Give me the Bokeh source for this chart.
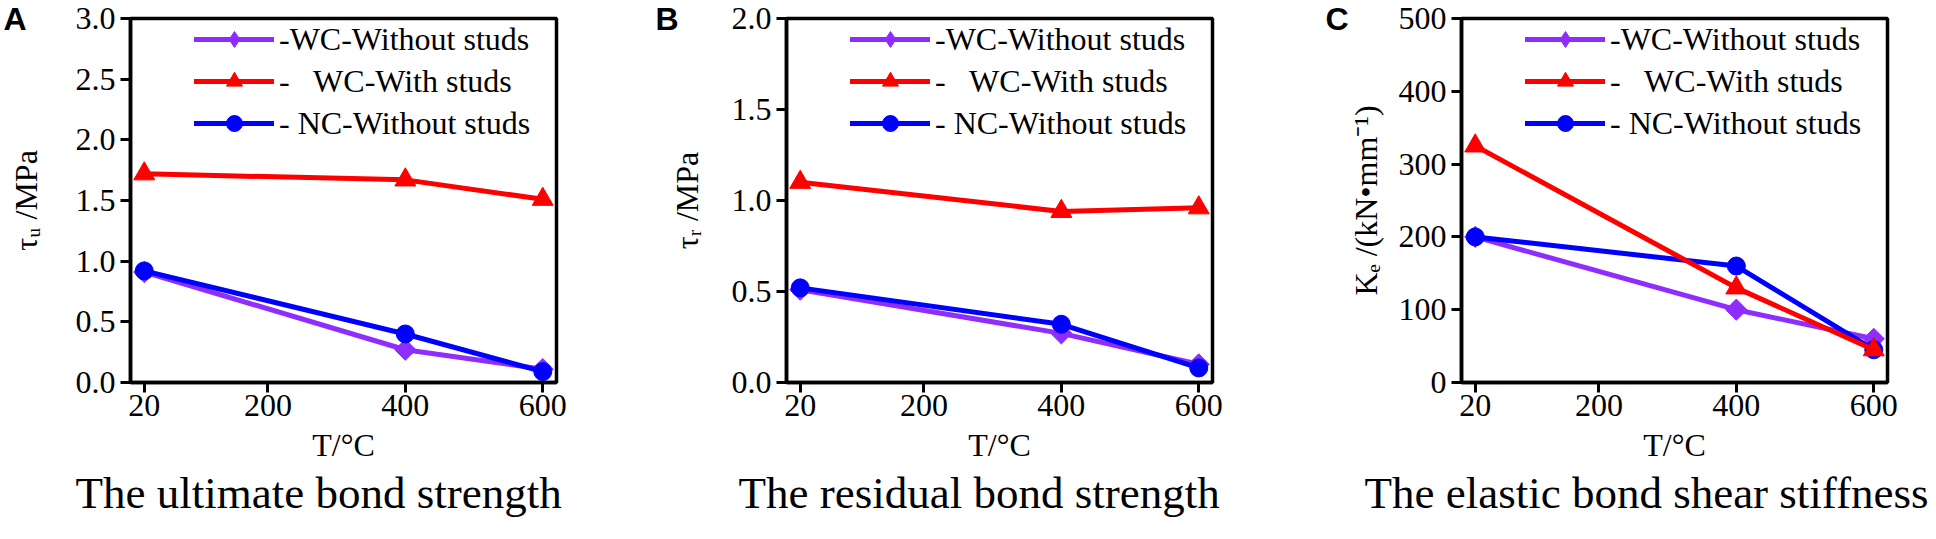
from bokeh.plotting import figure
from bokeh.layouts import row
from bokeh.models import (FixedTicker, NumeralTickFormatter, PrintfTickFormatter,
                          Legend, LegendItem, LinearAxis, Title, Range1d)
from bokeh.embed import file_html
from bokeh.resources import INLINE

# ---------------- data ----------------
temps = [20, 400, 600]
x_ticks = [20, 200, 400, 600]
series_labels = ["-WC-Without studs", "-   WC-With studs", "- NC-Without studs"]

tau_u_wc_without = [0.91, 0.27, 0.11]
tau_u_wc_with = [1.72, 1.67, 1.51]
tau_u_nc_without = [0.92, 0.40, 0.09]

tau_r_wc_without = [0.51, 0.27, 0.10]
tau_r_wc_with = [1.10, 0.94, 0.96]
tau_r_nc_without = [0.52, 0.32, 0.08]

ke_wc_without = [200, 100, 60]
ke_wc_with = [325, 130, 45]
ke_nc_without = [200, 160, 45]

y_ticks_a = [0, 0.5, 1.0, 1.5, 2.0, 2.5, 3.0]
y_ticks_b = [0, 0.5, 1.0, 1.5, 2.0]
y_ticks_c = [0, 100, 200, 300, 400, 500]

# ---------------- style ----------------
PURPLE = "#8F2DFF"
RED = "#FF0000"
BLUE = "#0000FF"
SERIF = "Liberation Serif"
FRAME_W = 426
FRAME_H = 364
TOP = 18
X_MIN, X_MAX = 0, 620


def make_panel(letter, ylabel, title_text, series, yticks, yfmt, ymax,
               left, right, ylabel_standoff, letter_standoff, title_offset):
    p = figure(frame_width=FRAME_W, frame_height=FRAME_H,
               x_range=Range1d(X_MIN, X_MAX), y_range=Range1d(0, ymax),
               output_backend="svg", toolbar_location=None,
               min_border_left=left, min_border_right=right,
               min_border_top=TOP, min_border_bottom=0)
    p.background_fill_color = "white"
    p.border_fill_color = "white"
    p.outline_line_color = "black"
    p.outline_line_width = 3.5
    p.xgrid.visible = False
    p.ygrid.visible = False

    for ax in (p.xaxis[0], p.yaxis[0]):
        ax.axis_line_width = 3.5
        ax.axis_line_color = "black"
        ax.major_tick_line_width = 3
        ax.major_tick_out = 10
        ax.major_tick_in = 0
        ax.minor_tick_line_color = None
        ax.major_label_text_font = SERIF
        ax.major_label_text_font_size = "32px"
        ax.major_label_text_color = "black"
        ax.axis_label_text_font = SERIF
        ax.axis_label_text_font_style = "normal"
        ax.axis_label_text_font_size = "32px"
        ax.axis_label_text_color = "black"

    p.xaxis.ticker = FixedTicker(ticks=x_ticks)
    p.xaxis.major_label_standoff = 2
    p.xaxis.axis_label = "T/°C"
    p.xaxis.axis_label_standoff = 8

    p.yaxis.ticker = FixedTicker(ticks=yticks)
    p.yaxis.formatter = NumeralTickFormatter(format=yfmt)
    p.yaxis.major_label_standoff = 5
    p.yaxis.axis_label = ylabel
    p.yaxis.axis_label_standoff = ylabel_standoff

    # panel letter, drawn as the single tick label of an extra, bare axis
    letter_axis = LinearAxis(ticker=FixedTicker(ticks=[ymax]),
                             formatter=PrintfTickFormatter(format=letter),
                             axis_line_color=None, major_tick_line_color=None,
                             minor_tick_line_color=None, major_tick_out=0,
                             major_tick_in=0,
                             major_label_standoff=letter_standoff,
                             major_label_text_font="Liberation Sans",
                             major_label_text_font_style="bold",
                             major_label_text_font_size="32px",
                             major_label_text_color="black")
    p.add_layout(letter_axis, "left")

    styles = [
        (series[0], PURPLE, "square", 15, 0.785398, "diamond"),
        (series[2], BLUE, "circle", 18, 0.0, "circle"),
        (series[1], RED, "triangle", 21, 0.0, "triangle"),
    ]
    rend = {}
    for vals, color, marker, size, ang, leg_marker in styles:
        rl = p.line(temps, vals, line_color=color, line_width=5,
                    line_cap="round", line_join="round")
        p.scatter(temps, vals, marker=marker, size=size, angle=ang,
                  fill_color=color, line_color=color)
        # hidden twin used only for the legend key (legend draws it anyway)
        rk = p.scatter(temps, vals, marker=leg_marker, size=size,
                       fill_color=color, line_color=color, visible=False)
        rend[color] = [rl, rk]

    items = [LegendItem(label=series_labels[0], renderers=rend[PURPLE]),
             LegendItem(label=series_labels[1], renderers=rend[RED]),
             LegendItem(label=series_labels[2], renderers=rend[BLUE])]
    item_h = 40
    gap = 2
    leg_h = 3 * item_h + 2 * gap
    legend = Legend(items=items, location=(64, FRAME_H - leg_h - 1),
                    glyph_width=80, glyph_height=item_h, label_height=item_h,
                    spacing=gap, padding=0, margin=0, label_standoff=5,
                    label_text_font=SERIF, label_text_font_size="32px",
                    label_text_color="black",
                    border_line_alpha=0, background_fill_alpha=0)
    p.add_layout(legend)

    t = Title(text=title_text, align="left", offset=title_offset, standoff=0,
              text_font=SERIF, text_font_style="normal",
              text_font_size="45px", text_color="black")
    p.add_layout(t, "below")
    return p


pa = make_panel("A", "τᵤ /MPa", "The ultimate bond strength",
                [tau_u_wc_without, tau_u_wc_with, tau_u_nc_without],
                y_ticks_a, "0.0", 3.0, 120, 96, 29, -22, -55)
pb = make_panel("B", "τᵣ /MPa", "The residual bond strength",
                [tau_r_wc_without, tau_r_wc_with, tau_r_nc_without],
                y_ticks_b, "0.0", 2.0, 134, 110, 24, -13, -48)
pc = make_panel("C", "Kₑ /(kN•mm⁻¹)", "The elastic bond shear stiffness",
                [ke_wc_without, ke_wc_with, ke_nc_without],
                y_ticks_c, "0", 500, 137, 45, 12, -4, -97)

layout = row(pa, pb, pc, spacing=0)
open("out.html", "w").write(file_html(layout, INLINE))
